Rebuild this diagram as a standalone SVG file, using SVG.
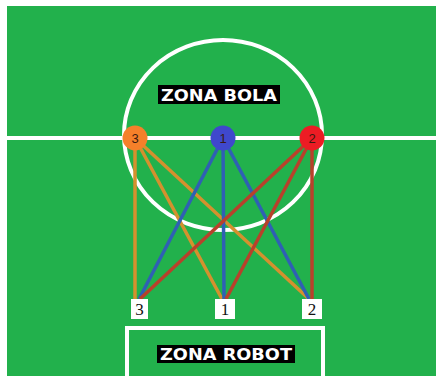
<svg xmlns="http://www.w3.org/2000/svg" width="436" height="376" viewBox="0 0 436 376">
<style>
.field{fill:#22b14c}
.wl{stroke:#ffffff;stroke-width:4;fill:none}
.o{stroke:#d4912e;stroke-width:3.5}
.b{stroke:#2f60b4;stroke-width:3.5}
.r{stroke:#b8412b;stroke-width:3.5}
.lbl{font-family:"DejaVu Sans",Verdana,sans-serif;font-weight:bold;font-size:15px;fill:#ffffff}
.nn{font-family:"Liberation Sans",Arial,sans-serif;font-size:13px;fill:#3a1a10;text-anchor:middle}
.bn{font-family:"Liberation Serif","Times New Roman",serif;font-size:17px;fill:#111111;text-anchor:middle}
.box{fill:#ffffff}
</style>
<rect x="0" y="0" width="436" height="376" fill="#ffffff"/>
<rect class="field" x="7" y="6" width="429" height="370"/>
<g id="field-lines">
<line class="wl" x1="7" y1="138" x2="436" y2="138"/>
<ellipse class="wl" cx="223" cy="135" rx="99" ry="95"/>
<rect class="wl" x="127" y="328" width="196" height="60"/>
</g>
<g id="zona-bola">
<rect x="158" y="85" width="122" height="19" fill="#000000"/>
<text class="lbl" x="219" y="100.5" text-anchor="middle" textLength="116" lengthAdjust="spacingAndGlyphs">ZONA BOLA</text>
</g>
<g id="zona-robot">
<rect x="157" y="345" width="138" height="18" fill="#000000"/>
<text class="lbl" x="226" y="360" text-anchor="middle" textLength="132" lengthAdjust="spacingAndGlyphs">ZONA ROBOT</text>
</g>
<g id="connectors">
<line class="o" x1="135" y1="138" x2="135" y2="299"/>
<line class="o" x1="135" y1="138" x2="222" y2="299"/>
<line class="o" x1="135" y1="138" x2="309" y2="299"/>
<line class="b" x1="223" y1="138" x2="139" y2="299"/>
<line class="b" x1="223" y1="138" x2="224" y2="299"/>
<line class="b" x1="223" y1="138" x2="309" y2="299"/>
<line class="r" x1="312" y1="138" x2="140" y2="299"/>
<line class="r" x1="312" y1="138" x2="226" y2="299"/>
<line class="r" x1="312" y1="138" x2="312" y2="299"/>
</g>
<g id="ball-3">
<circle cx="135" cy="138" r="12.5" fill="#f5802a"/>
<text class="nn" x="135" y="143">3</text>
</g>
<g id="ball-1">
<circle cx="223" cy="138" r="12.5" fill="#3f48cc"/>
<text class="nn" x="223" y="143">1</text>
</g>
<g id="ball-2">
<circle cx="312" cy="138" r="12.5" fill="#ed1c24"/>
<text class="nn" x="312" y="143">2</text>
</g>
<g id="robot-3">
<rect class="box" x="131" y="299" width="17" height="20"/>
<text class="bn" x="139.5" y="315">3</text>
</g>
<g id="robot-1">
<rect class="box" x="215" y="299" width="20" height="20"/>
<text class="bn" x="225" y="315">1</text>
</g>
<g id="robot-2">
<rect class="box" x="302" y="299" width="20" height="20"/>
<text class="bn" x="312" y="315">2</text>
</g>
</svg>
